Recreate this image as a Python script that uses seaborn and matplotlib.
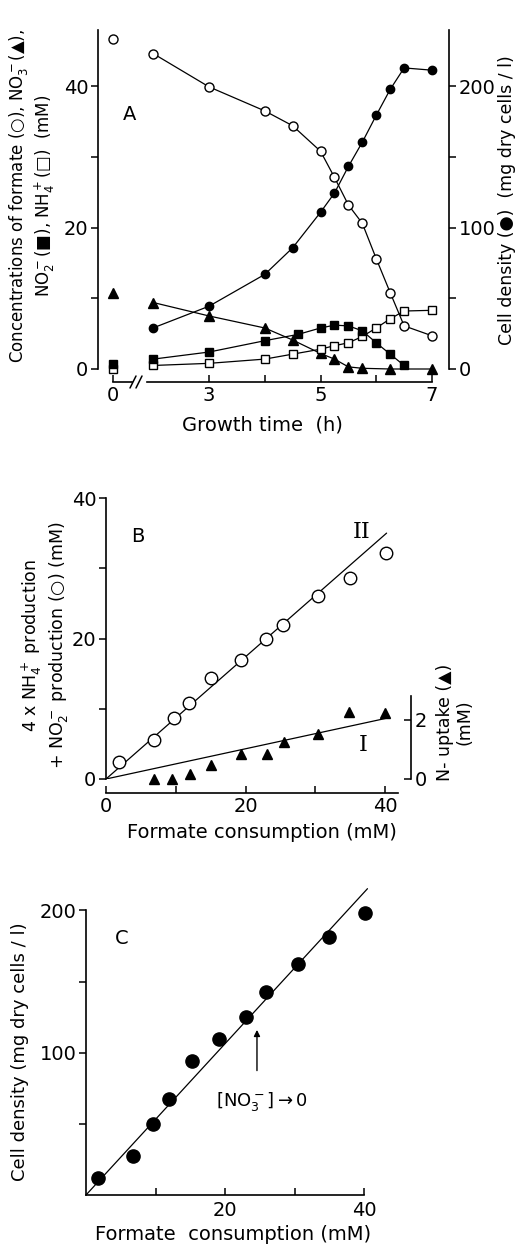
import numpy as np
import pandas as pd
import matplotlib
matplotlib.use("Agg")
import matplotlib.pyplot as plt
from matplotlib.lines import Line2D
import seaborn as sns

# ---------------- data ----------------
# Panel A (growth time, h)
t_main = [2, 3, 4, 4.5, 5, 5.25, 5.5, 5.75, 6, 6.25, 6.5, 7]
formate_t0 = 46.7
formate = [44.6, 39.9, 36.5, 34.4, 30.8, 27.1, 23.2, 20.6, 15.6, 10.8, 6.1, 4.7]
cells_t = [2, 3, 4, 4.5, 5, 5.25, 5.5, 5.75, 6, 6.25, 6.5, 7]
cells = [29.1, 44.4, 66.9, 85.7, 110.8, 124.4, 143.2, 160.4, 179.4, 197.7, 212.9, 211.3]
nitrate_t0 = 10.7
nitrate_t = [2, 3, 4, 4.5, 5, 5.25, 5.5, 5.75, 6.25, 7]
nitrate = [9.4, 7.5, 5.8, 4.1, 2.2, 1.4, 0.3, 0.1, 0.0, 0.0]
nitrite_t0 = 0.7
nitrite_t = [2, 3, 4, 4.6, 5, 5.25, 5.5, 5.75, 6, 6.25, 6.5]
nitrite = [1.4, 2.4, 4.0, 4.9, 5.8, 6.2, 6.1, 5.4, 3.7, 2.1, 0.5]
ammonium_t0 = 0.0
ammonium = [0.5, 0.8, 1.4, 2.1, 2.8, 3.3, 3.7, 4.6, 5.8, 7.1, 8.2, 8.3]

# Panel B (formate consumption, mM)
b_circ_x = [1.8, 6.9, 9.7, 11.9, 15.0, 19.3, 22.9, 25.4, 30.4, 34.9, 40.1]
b_circ_y = [2.4, 5.6, 8.7, 10.8, 14.4, 16.9, 20.0, 21.9, 26.0, 28.6, 32.1]
b_tri_x = [6.9, 9.4, 12.0, 15.0, 19.4, 23.0, 25.5, 30.4, 34.8, 39.9]
b_tri_y = [0.0, 0.0, 0.16, 0.48, 0.86, 0.86, 1.26, 1.52, 2.27, 2.23]
b_lineII_x = [0, 40.2]
b_lineII_y = [0, 35.0]
b_lineI_x = [0, 40.2]
b_lineI_y = [0, 2.06]

# Panel C
c_x = [1.7, 6.7, 9.6, 11.9, 15.2, 19.1, 23.0, 25.9, 30.5, 35.0, 40.1]
c_y = [12, 27.2, 49.7, 67.7, 94.2, 109.9, 125.1, 142.7, 162.6, 181.3, 198.2]
c_line_x = [0, 40.5]
c_line_y = [0, 215.3]

# ---------------- style ----------------
sns.set_style("ticks")
plt.rcParams["font.family"] = ["DejaVu Sans"]
plt.rcParams["mathtext.default"] = "regular"
plt.rcParams["mathtext.fontset"] = "dejavusans"
plt.rcParams["axes.linewidth"] = 1.2
plt.rcParams["xtick.major.width"] = 1.1
plt.rcParams["ytick.major.width"] = 1.1
for key in ("text.color", "axes.labelcolor", "xtick.color", "ytick.color",
            "axes.edgecolor", "xtick.labelcolor", "ytick.labelcolor"):
    plt.rcParams[key] = "black"

W, H = 525, 1245
fig = plt.figure(figsize=(W / 100, H / 100), dpi=100)
fig.patch.set_facecolor("white")


def add_ax(x0, y0, x1, y1):
    return fig.add_axes([x0 / W, 1 - y1 / H, (x1 - x0) / W, (y1 - y0) / H])


def fx(px):
    return px / W


def fy(py):
    return 1 - py / H


FS = 14
LW = 0.9
K = "black"

def lp(ax, x, y, marker, mfc, ms, clip=False):
    sns.lineplot(x=x, y=y, ax=ax, color=K, lw=LW, marker=marker, markersize=ms,
                 markerfacecolor=mfc, mec=K, mew=1.0, clip_on=clip,
                 estimator=None, sort=False)


def pts(ax, x, y, marker, mfc, ms, clip=False):
    sns.lineplot(x=x, y=y, ax=ax, color=K, lw=0, marker=marker, markersize=ms,
                 markerfacecolor=mfc, mec=K, mew=1.0, clip_on=clip,
                 estimator=None, sort=False)

# ================= Panel A =================
axA0 = add_ax(98, 29.6, 136, 369)
axA1 = add_ax(136, 29.6, 449, 369)
axAR = axA1.twinx()
for a in (axA0, axA1, axAR):
    a.set_facecolor("none")

axA0.set_xlim(-15 / 55.7, 23 / 55.7)
axA1.set_xlim(3 - 73 / 55.7, 7 + 17 / 55.7)
axA0.set_ylim(0, 48)
axA1.set_ylim(0, 48)
axAR.set_ylim(0, 240)

# t = 0 points
pts(axA0, [0], [formate_t0], "o", "white", 6.5)
pts(axA0, [0], [nitrate_t0], "^", K, 6.5)
pts(axA0, [0], [ammonium_t0], "s", "white", 6)
pts(axA0, [0], [nitrite_t0], "s", K, 6)

# main series
lp(axA1, t_main, formate, "o", "white", 6.5)
lp(axA1, nitrate_t, nitrate, "^", K, 6.5)
lp(axA1, t_main, ammonium, "s", "white", 6)
lp(axA1, nitrite_t, nitrite, "s", K, 6)
lp(axAR, cells_t, cells, "o", K, 6)

for a in (axA0, axA1, axAR):
    a.set_xlabel("")
    a.set_ylabel("")

# spines
axA0.spines["right"].set_visible(False)
axA0.spines["top"].set_visible(False)
axA0.spines["bottom"].set_position(("outward", 9.4))
axA0.spines["bottom"].set_bounds(0, 19 / 55.7)
axA0.spines["left"].set_bounds(0, 48)
axA0.set_yticks([0, 10, 20, 30, 40])
axA0.set_yticklabels(["0", "", "20", "", "40"], fontsize=FS)
axA0.set_xticks([0])
axA0.set_xticklabels(["0"], fontsize=FS)
axA0.tick_params(axis="x", direction="in", length=5, pad=3)
axA0.tick_params(axis="y", direction="out", length=5, pad=2)

for side in ("left", "top"):
    axA1.spines[side].set_visible(False)
    axAR.spines[side].set_visible(False)
axA1.spines["right"].set_visible(False)
axAR.spines["bottom"].set_visible(False)
axA1.spines["bottom"].set_position(("outward", 9.4))
axA1.spines["bottom"].set_bounds(3 - 62 / 55.7, 7)
axA1.set_yticks([])
axA1.set_xticks([3, 4, 5, 6, 7])
axA1.set_xticklabels(["3", "", "5", "", "7"], fontsize=FS)
axA1.tick_params(axis="x", direction="in", length=5, pad=3)
axAR.spines["right"].set_bounds(0, 240)
axAR.set_yticks([0, 50, 100, 150, 200])
axAR.set_yticklabels(["0", "", "100", "", "200"], fontsize=FS)
axAR.tick_params(axis="y", direction="out", length=5, pad=2)

# axis break marks
for xo in (133, 139):
    fig.add_artist(Line2D([fx(xo - 3), fx(xo + 3)], [fy(388), fy(376)], color=K, lw=1.1))

fig.text(fx(130), fy(115), "A", fontsize=FS, ha="center", va="center")
fig.text(fx(32), fy(196),
         "Concentrations of formate (○), NO$_3^-$(▲),\nNO$_2^-$(■), NH$_4^+$(□)  (mM)",
         rotation=90, ha="center", va="center", multialignment="center", fontsize=12,
         linespacing=1.15)
fig.text(fx(507), fy(200), "Cell density (●)  (mg dry cells / l)",
         rotation=90, ha="center", va="center", fontsize=12.5)
fig.text(fx(262), fy(425), "Growth time  (h)", ha="center", va="center", fontsize=FS)

# ================= Panel B =================
axB = add_ax(106, 498, 410.7, 779)
axB.set_facecolor("none")
axBR = axB.twinx()
axBR.set_facecolor("none")
axB.set_xlim(0, (410.7 - 106) / 6.98)
axB.set_ylim(0, 40)
axBR.set_ylim(0, 40 / 4.2)

sns.lineplot(x=b_lineII_x, y=b_lineII_y, ax=axB, color=K, lw=LW)
pts(axB, b_circ_x, b_circ_y, "o", "white", 9)
sns.lineplot(x=b_lineI_x, y=b_lineI_y, ax=axBR, color=K, lw=LW)
pts(axBR, b_tri_x, b_tri_y, "^", K, 7.5)
for a in (axB, axBR):
    a.set_xlabel("")
    a.set_ylabel("")

axB.spines["top"].set_visible(False)
axB.spines["right"].set_visible(False)
axBR.spines["top"].set_visible(False)
axBR.spines["left"].set_visible(False)
axBR.spines["bottom"].set_visible(False)
axB.spines["bottom"].set_position(("outward", 10))
axB.spines["bottom"].set_bounds(0, 41.9)
axB.set_xticks([0, 10, 20, 30, 40])
axB.set_xticklabels(["0", "", "20", "", "40"], fontsize=FS)
axB.set_yticks([0, 10, 20, 30, 40])
axB.set_yticklabels(["0", "", "20", "", "40"], fontsize=FS)
axB.tick_params(axis="x", direction="in", length=5, pad=3)
axB.tick_params(axis="y", direction="out", length=5, pad=2)
axBR.spines["right"].set_bounds(0, 2.83)
axBR.set_yticks([0, 2])
axBR.set_yticklabels(["0", "2"], fontsize=FS)
axBR.tick_params(axis="y", direction="in", length=5, pad=3)

fig.text(fx(138), fy(537), "B", fontsize=FS, ha="center", va="center")
fig.text(fx(362), fy(532), "II", fontsize=FS + 2, ha="center", va="center",
         family=["DejaVu Serif"])
fig.text(fx(363), fy(745), "I", fontsize=FS + 2, ha="center", va="center",
         family=["DejaVu Serif"])
fig.text(fx(45), fy(645),
         "4 x NH$_4^+$ production\n+ NO$_2^-$ production (○) (mM)",
         rotation=90, ha="center", va="center", multialignment="center", fontsize=12.5,
         linespacing=1.15)
fig.text(fx(455), fy(722), "N- uptake (▲)\n(mM)", rotation=90, ha="center",
         va="center", multialignment="center", fontsize=12.5, linespacing=1.1)
fig.text(fx(262), fy(833), "Formate consumption (mM)", ha="center", va="center",
         fontsize=FS)

# ================= Panel C =================
axC = add_ax(86, 882, 380, 1195)
axC.set_facecolor("none")
axC.set_xlim(0, (380 - 86) / 6.95)
axC.set_ylim(0, 220)
sns.lineplot(x=c_line_x, y=c_line_y, ax=axC, color=K, lw=LW)
pts(axC, c_x, c_y, "o", K, 9.5)
axC.set_xlabel("")
axC.set_ylabel("")
axC.spines["top"].set_visible(False)
axC.spines["right"].set_visible(False)
axC.spines["left"].set_bounds(0, 200)
axC.spines["bottom"].set_bounds(0, 40)
axC.set_xticks([10, 20, 30, 40])
axC.set_xticklabels(["", "20", "", "40"], fontsize=FS)
axC.set_yticks([50, 100, 150, 200])
axC.set_yticklabels(["", "100", "", "200"], fontsize=FS)
axC.tick_params(axis="x", direction="in", length=5, pad=4)
axC.tick_params(axis="y", direction="out", length=5, pad=2)

axC.annotate("", xy=(24.6, 118), xytext=(24.6, 85.5),
             arrowprops=dict(arrowstyle="-|>", color=K, lw=1.0, mutation_scale=9))
axC.text(25.3, 66, r"$\left[NO_3^-\right]$$\rightarrow$0", ha="center", va="center",
         fontsize=13)

fig.text(fx(122), fy(938), "C", fontsize=FS, ha="center", va="center")
fig.text(fx(20), fy(1052), "Cell density (mg dry cells / l)", rotation=90,
         ha="center", va="center", fontsize=13)
fig.text(fx(233), fy(1235), "Formate  consumption (mM)", ha="center", va="center",
         fontsize=FS)

fig.savefig("out.png", dpi=100, facecolor="white")
